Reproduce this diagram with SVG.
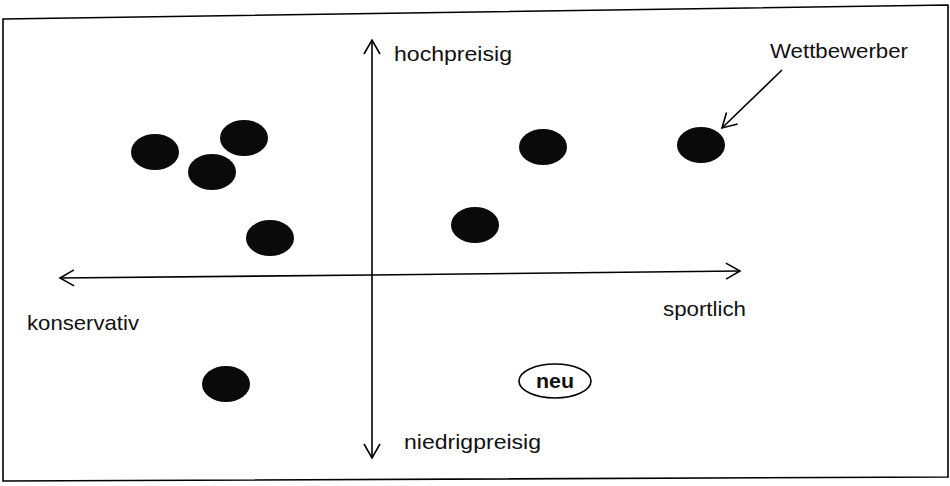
<svg xmlns="http://www.w3.org/2000/svg" width="950" height="486" viewBox="0 0 950 486">
<defs>
<marker id="open" viewBox="0 0 20 20" refX="18" refY="10" markerWidth="20" markerHeight="20" markerUnits="userSpaceOnUse" orient="auto">
<path d="M4,2 L18,10 L4,18" fill="none" stroke="#000" stroke-width="1.6"/>
</marker>
</defs>
<style>
text{font-family:"Liberation Sans",Arial,sans-serif;font-size:21px;fill:#111}
.dot{fill:#0a0a0a}
.ax{stroke:#000;stroke-width:1.6;fill:none}
</style>
<rect width="950" height="486" fill="#fff"/>
<path d="M3,19 L948,5 L948,477 L3,481 Z" fill="none" stroke="#000" stroke-width="1.6"/>
<g id="connectors">
<line class="ax" x1="372" y1="250" x2="372" y2="40" marker-end="url(#open)"/>
<line class="ax" x1="372" y1="250" x2="372" y2="458" marker-end="url(#open)"/>
<line class="ax" x1="372" y1="275" x2="60" y2="278" marker-end="url(#open)"/>
<line class="ax" x1="372" y1="275" x2="740" y2="271" marker-end="url(#open)"/>
<line class="ax" x1="782" y1="70" x2="722" y2="128" marker-end="url(#open)"/>
</g>
<g id="label-hochpreisig"><text x="394" y="61" textLength="118" lengthAdjust="spacingAndGlyphs">hochpreisig</text></g>
<g id="label-niedrigpreisig"><text x="404" y="449" textLength="137" lengthAdjust="spacingAndGlyphs">niedrigpreisig</text></g>
<g id="label-konservativ"><text x="27" y="330" textLength="112" lengthAdjust="spacingAndGlyphs">konservativ</text></g>
<g id="label-sportlich"><text x="663" y="316" textLength="83" lengthAdjust="spacingAndGlyphs">sportlich</text></g>
<g id="label-wettbewerber"><text x="770" y="58" textLength="138" lengthAdjust="spacingAndGlyphs">Wettbewerber</text></g>
<g id="c1"><ellipse class="dot" cx="155" cy="152" rx="24" ry="18"/></g>
<g id="c2"><ellipse class="dot" cx="244" cy="138" rx="24" ry="18"/></g>
<g id="c3"><ellipse class="dot" cx="212" cy="172" rx="24" ry="18"/></g>
<g id="c4"><ellipse class="dot" cx="270" cy="238" rx="24" ry="18"/></g>
<g id="c5"><ellipse class="dot" cx="543" cy="147" rx="24" ry="18"/></g>
<g id="c6"><ellipse class="dot" cx="701" cy="145" rx="24" ry="18"/></g>
<g id="c7"><ellipse class="dot" cx="475" cy="225" rx="24" ry="18"/></g>
<g id="c8"><ellipse class="dot" cx="226" cy="384" rx="24" ry="18"/></g>
<g id="neu"><ellipse cx="555" cy="381" rx="36" ry="17" fill="#fff" stroke="#000" stroke-width="1.6"/><text x="555" y="388" text-anchor="middle" style="font-size:21px;font-weight:bold" textLength="38" lengthAdjust="spacingAndGlyphs">neu</text></g>
</svg>
